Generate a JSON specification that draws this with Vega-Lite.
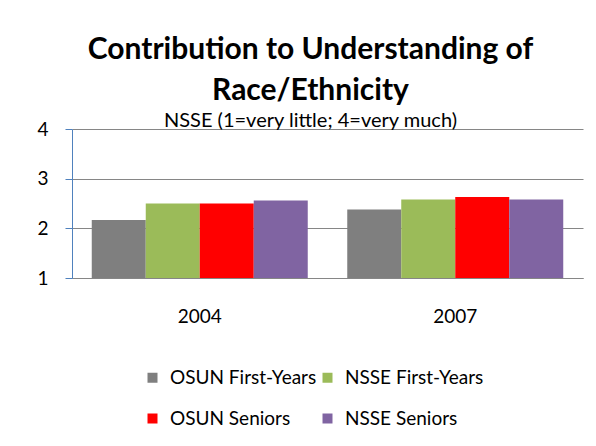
{
  "$schema": "https://vega.github.io/schema/vega-lite/v6.json",
  "width": 511,
  "height": 149,
  "autosize": {"type": "none"},
  "padding": {"left": 72, "top": 129, "right": 13, "bottom": 168},
  "background": "white",
  "title": {
    "text": ["Contribution to Understanding of", "Race/Ethnicity"],
    "subtitle": "NSSE (1=very little; 4=very much)",
    "font": "Lato",
    "fontSize": 30,
    "fontWeight": "bold",
    "lineHeight": 41,
    "color": "black",
    "subtitleFont": "Lato",
    "subtitleFontSize": 20,
    "subtitleColor": "black",
    "subtitlePadding": 5,
    "offset": -11,
    "dx": -17,
    "anchor": "middle"
  },
  "data": {
    "values": [
      {"year": "2004", "series": "OSUN First-Years", "value": 2.17},
      {"year": "2004", "series": "NSSE First-Years", "value": 2.50},
      {"year": "2004", "series": "OSUN Seniors", "value": 2.50},
      {"year": "2004", "series": "NSSE Seniors", "value": 2.56},
      {"year": "2007", "series": "OSUN First-Years", "value": 2.38},
      {"year": "2007", "series": "NSSE First-Years", "value": 2.58},
      {"year": "2007", "series": "OSUN Seniors", "value": 2.63},
      {"year": "2007", "series": "NSSE Seniors", "value": 2.58}
    ]
  },
  "mark": {"type": "bar"},
  "encoding": {
    "x": {
      "field": "year",
      "type": "nominal",
      "scale": {"paddingInner": 0.1546, "paddingOuter": 0.0773},
      "axis": {
        "title": null,
        "labelAngle": 0,
        "ticks": false,
        "domainColor": "#868686",
        "labelFont": "Lato",
        "labelFontSize": 19,
        "labelColor": "black",
        "labelPadding": 29
      }
    },
    "xOffset": {
      "field": "series",
      "type": "nominal",
      "sort": ["OSUN First-Years", "NSSE First-Years", "OSUN Seniors", "NSSE Seniors"],
      "scale": {"paddingInner": 0, "paddingOuter": 0}
    },
    "y": {
      "field": "value",
      "type": "quantitative",
      "scale": {"domain": [1, 4], "zero": false, "nice": false},
      "axis": {
        "title": null,
        "values": [1, 2, 3, 4],
        "grid": true,
        "gridColor": "#868686",
        "gridOpacity": 1,
        "domainColor": "#4F81BD",
        "tickColor": "#4F81BD",
        "tickSize": 7,
        "labelFont": "Lato",
        "labelFontSize": 19,
        "labelColor": "black",
        "labelPadding": 17
      }
    },
    "y2": {"datum": 1},
    "color": {
      "field": "series",
      "type": "nominal",
      "scale": {
        "domain": ["OSUN First-Years", "NSSE First-Years", "OSUN Seniors", "NSSE Seniors"],
        "range": ["#7F7F7F", "#9BBB59", "#FF0000", "#8064A2"]
      },
      "legend": {
        "title": null,
        "orient": "none",
        "direction": "horizontal",
        "legendX": 71,
        "legendY": 239,
        "columns": 2,
        "columnPadding": 1,
        "rowPadding": 21,
        "symbolType": "square",
        "symbolSize": 100,
        "symbolStrokeWidth": 0,
        "labelOffset": 8,
        "labelFont": "Lato",
        "labelFontSize": 19,
        "labelColor": "black",
        "labelLimit": 300
      }
    }
  },
  "config": {"view": {"stroke": null}}
}
